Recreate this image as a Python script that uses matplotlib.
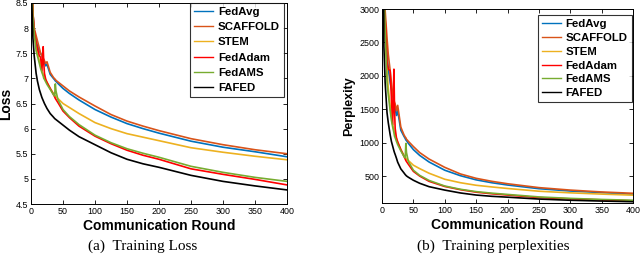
import matplotlib
matplotlib.use('Agg')
import matplotlib.pyplot as plt

rounds = [1, 3, 5, 8, 10, 13, 15, 17, 19, 20, 21, 23, 25, 30, 35, 37, 38, 39, 42,
          50, 60, 75, 100, 125, 150, 175, 200, 250, 300, 350, 400]

# (a) training loss
loss_fedavg   = [9.0, 8.3, 7.95, 7.75, 7.65, 7.55, 7.5, 7.45, 7.38, 7.35, 7.32, 7.25, 7.28, 7.08, 7.0, 6.97, 6.95, 6.94, 6.9,
                 6.8, 6.7, 6.57, 6.38, 6.23, 6.1, 6.0, 5.91, 5.75, 5.63, 5.54, 5.44]
loss_scaffold = [9.0, 8.3, 8.0, 7.85, 7.75, 7.6, 7.5, 7.45, 7.4, 7.38, 7.35, 7.3, 7.33, 7.12, 7.02, 6.99, 6.98, 6.96, 6.93,
                 6.85, 6.75, 6.63, 6.45, 6.28, 6.15, 6.05, 5.96, 5.8, 5.68, 5.58, 5.5]
loss_stem     = [9.0, 8.2, 7.9, 7.65, 7.5, 7.35, 7.25, 7.15, 7.08, 7.05, 7.02, 6.97, 6.92, 6.8, 6.7, 6.66, 6.65, 6.63, 6.6,
                 6.5, 6.42, 6.3, 6.12, 6.0, 5.9, 5.83, 5.76, 5.62, 5.53, 5.45, 5.38]
loss_fedadam  = [9.0, 8.3, 7.95, 7.7, 7.6, 7.45, 7.42, 7.15, 7.63, 7.3, 7.1, 6.98, 6.92, 6.8, 6.68, 6.63, 6.6, 6.58, 6.52,
                 6.35, 6.22, 6.05, 5.85, 5.7, 5.57, 5.47, 5.39, 5.2, 5.09, 4.99, 4.88]
loss_fedams   = [9.0, 8.2, 7.9, 7.55, 7.45, 7.3, 7.2, 7.12, 7.05, 7.0, 6.98, 6.93, 6.88, 6.78, 6.68, 6.65, 6.89, 6.75, 6.58,
                 6.38, 6.24, 6.08, 5.87, 5.72, 5.6, 5.51, 5.43, 5.25, 5.13, 5.03, 4.95]
loss_fafed    = [8.6, 7.8, 7.45, 7.1, 6.95, 6.78, 6.7, 6.62, 6.56, 6.53, 6.5, 6.45, 6.4, 6.3, 6.23, 6.2, 6.19, 6.18, 6.15,
                 6.07, 5.97, 5.84, 5.68, 5.52, 5.39, 5.3, 5.23, 5.07, 4.95, 4.86, 4.78]

# (b) training perplexity
ppl_fedavg   = [8100, 4024, 2836, 2322, 2101, 1901, 1808, 1720, 1604, 1556, 1510, 1408, 1480, 1188, 1097, 1064, 1043, 1033, 992,
                898, 812, 713, 590, 508, 446, 403, 369, 314, 279, 255, 230]
ppl_scaffold = [8100, 4024, 2981, 2566, 2322, 2080, 1900, 1720, 1636, 1604, 1580, 1480, 1560, 1234, 1119, 1086, 1075, 1054, 1022,
                944, 854, 757, 633, 534, 469, 424, 388, 330, 293, 265, 245]
ppl_stem     = [8100, 3641, 2697, 2101, 1808, 1556, 1408, 1274, 1188, 1153, 1119, 1064, 1012, 898, 812, 781, 773, 757, 735,
                665, 614, 545, 455, 403, 365, 340, 317, 276, 252, 233, 217]
ppl_fedadam  = [8100, 4024, 2836, 2208, 2100, 2080, 1669, 1274, 2100, 1480, 1212, 1075, 1012, 898, 797, 757, 735, 720, 679,
                573, 503, 424, 347, 299, 262, 238, 219, 181, 162, 147, 132]
ppl_fedams   = [8100, 3641, 2697, 1901, 1720, 1480, 1339, 1236, 1153, 1097, 1075, 1022, 973, 880, 797, 773, 990, 854, 720,
                590, 513, 437, 354, 305, 270, 247, 228, 191, 169, 153, 141]
ppl_fafed    = [5432, 2441, 1900, 1450, 1300, 1120, 1020, 950, 880, 850, 825, 770, 710, 610, 550, 525, 515, 505, 485,
                440, 395, 344, 293, 250, 219, 200, 187, 159, 141, 129, 119]

names  = ['FedAvg', 'SCAFFOLD', 'STEM', 'FedAdam', 'FedAMS', 'FAFED']
colors = ['#0072BD', '#D95319', '#EDB120', '#FF0000', '#77AC30', '#000000']

plt.rcParams['font.family'] = ['Liberation Sans', 'DejaVu Sans']

fig = plt.figure(figsize=(6.4, 2.54), dpi=100)
ax1 = fig.add_axes([31 / 640, 1 - 204 / 254, 256 / 640, 201 / 254])
ax2 = fig.add_axes([382 / 640, 1 - 203 / 254, 251 / 640, 194 / 254])

loss = [loss_fedavg, loss_scaffold, loss_stem, loss_fedadam, loss_fedams, loss_fafed]
ppl = [ppl_fedavg, ppl_scaffold, ppl_stem, ppl_fedadam, ppl_fedams, ppl_fafed]

for name, c, y in zip(names, colors, loss):
    ax1.plot(rounds, y, color=c, lw=1.2, label=name)
for name, c, y in zip(names, colors, ppl):
    ax2.plot(rounds, y, color=c, lw=1.2, label=name)

ax1.set_xlim(0, 400)
ax1.set_ylim(4.5, 8.5)
ax1.set_yticks([4.5, 5, 5.5, 6, 6.5, 7, 7.5, 8, 8.5])
ax1.set_yticklabels(['4.5', '5', '5.5', '6', '6.5', '7', '7.5', '8', '8.5'])
ax1.set_ylabel('Loss', fontsize=10, fontweight='bold', labelpad=2)

ax2.set_xlim(0, 400)
ax2.set_ylim(100, 3000)
ax2.set_yticks([500, 1000, 1500, 2000, 2500, 3000])
ax2.set_ylabel('Perplexity', fontsize=9, fontweight='bold', labelpad=3)

for ax in (ax1, ax2):
    ax.set_xticks(range(0, 401, 50))
    ax.set_xlabel('Communication Round', fontsize=10, fontweight='bold', labelpad=2)
    ax.tick_params(direction='in', length=3, width=0.6, labelsize=6.4, top=True, right=True, pad=2)
    for s in ax.spines.values():
        s.set_linewidth(0.7)

leg_kw = dict(prop={'weight': 'bold', 'size': 8.2}, frameon=True, fancybox=False, edgecolor='black',
              handlelength=1.7, handletextpad=0.4, borderpad=0.35, borderaxespad=0, loc='upper right')
l1 = ax1.legend(labelspacing=0.46, bbox_to_anchor=(1 - 3 / 256, 1.0), **leg_kw)
l2 = ax2.legend(labelspacing=0.34, bbox_to_anchor=(1 - 1.5 / 251, 1 - 6 / 194), **leg_kw)
for l in (l1, l2):
    l.get_frame().set_linewidth(0.8)
    for h in l.get_lines():
        h.set_linewidth(1.0)

fig.text(143 / 640, 1 - 246 / 254, '(a)  Training Loss', family='Liberation Serif', fontsize=11, ha='center', va='center')
fig.text(493 / 640, 1 - 246 / 254, '(b)  Training perplexities', family='Liberation Serif', fontsize=11, ha='center', va='center')

fig.savefig('out.png', dpi=100)
